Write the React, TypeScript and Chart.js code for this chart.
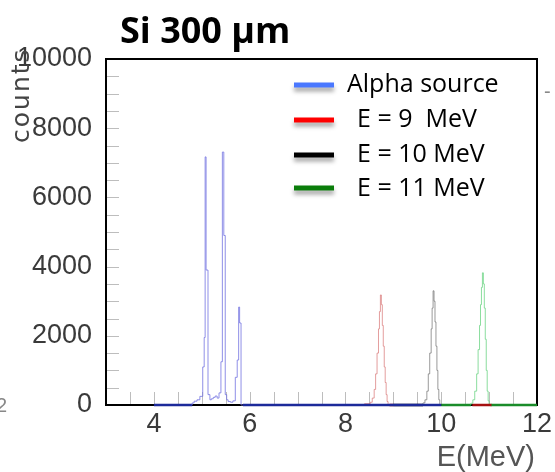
import React, { useEffect, useRef } from "react";
import { Chart, registerables } from "chart.js";
Chart.register(...registerables);

// ---------- data ----------
const seriesLabels = ["Alpha source", "E = 9  MeV", "E = 10 MeV", "E = 11 MeV"];

const alphaEnergy = [4.0, 4.8, 4.84, 4.9, 4.96, 5.02, 5.05, 5.07, 5.09, 5.13, 5.17, 5.2, 5.24, 5.28, 5.32, 5.36, 5.4, 5.43, 5.46, 5.49, 5.52, 5.55, 5.6, 5.65, 5.7, 5.74, 5.77, 5.79, 5.82, 5.86, 10.0];
const alphaCounts = [0, 0, 60, 110, 150, 250, 1100, 1950, 7170, 3900, 300, 150, 180, 220, 260, 200, 350, 1250, 7310, 4900, 300, 150, 100, 80, 120, 800, 1300, 2830, 2370, 0, 0];

const e9Energy = [8.4, 8.52, 8.56, 8.6, 8.63, 8.66, 8.69, 8.71, 8.73, 8.75, 8.77, 8.79, 8.81, 8.83, 8.85, 8.87, 8.89, 8.92, 9.0, 9.01, 10.65, 11.05];
const e9Counts = [0, 40, 80, 200, 450, 900, 1500, 2200, 2700, 3180, 2900, 2300, 1700, 1100, 650, 300, 100, 0, 0, null, 0, 0];

const e10Energy = [9.0, 9.62, 9.66, 9.7, 9.73, 9.76, 9.79, 9.81, 9.83, 9.85, 9.87, 9.89, 9.91, 9.93, 9.95, 9.97, 10.0];
const e10Counts = [0, 0, 60, 150, 400, 900, 1500, 2200, 2800, 3300, 3000, 2400, 1700, 1000, 450, 150, 0];

const e11Energy = [10.0, 10.62, 10.66, 10.7, 10.74, 10.77, 10.8, 10.82, 10.84, 10.86, 10.88, 10.9, 10.92, 10.94, 10.96, 10.98, 11.0, 11.03, 12.0];
const e11Counts = [0, 0, 50, 150, 400, 900, 1600, 2300, 2900, 3400, 3820, 3500, 2800, 1900, 1000, 400, 120, 0, 0];

const xTickValues = [4, 6, 8, 10, 12];
const yTickValues = [0, 2000, 4000, 6000, 8000, 10000];
const xMinorTicks = [3.5, 4, 4.5, 5, 5.5, 6, 6.5, 7, 7.5, 8, 8.5, 9, 9.5, 10, 10.5, 11, 11.5];
const yMinorTicks = [500, 1000, 1500, 2000, 2500, 3000, 3500, 4000, 4500, 5000, 5500, 6000, 6500, 7000, 7500, 8000, 8500, 9000, 9500];

const titleText = "Si 300 µm";
const yTitleText = "counts";
const xTitleText = "E(MeV)";

// ---------- styles ----------
const lineColors = ["rgba(115,115,225,0.8)", "rgba(215,115,115,0.7)", "rgba(100,100,100,0.65)", "rgba(100,210,125,0.75)"];
const baseColors = ["#1c2a9a", "#a51010", "#111111", "#1a8c2a"];
const legendColors = ["#4a78ff", "#ff0000", "#000000", "#0a7d0a"];

function toPoints(xs: number[], ys: (number | null)[]) {
  return xs.map((x, i) => ({ x, y: ys[i] }));
}

const framePlugin = {
  id: "frameTicks",
  beforeDatasetsDraw(chart: any) {
    const { ctx, chartArea: a, scales } = chart;
    ctx.save();
    ctx.strokeStyle = "#bdbdbd";
    ctx.lineWidth = 1;
    xMinorTicks.forEach((v) => {
      const px = Math.round(scales.x.getPixelForValue(v)) + 0.5;
      ctx.beginPath();
      ctx.moveTo(px, a.bottom);
      ctx.lineTo(px, a.bottom - 13);
      ctx.stroke();
    });
    yMinorTicks.forEach((v) => {
      const py = Math.round(scales.y.getPixelForValue(v)) + 0.5;
      ctx.beginPath();
      ctx.moveTo(a.left, py);
      ctx.lineTo(a.left + 13, py);
      ctx.stroke();
    });
    ctx.strokeStyle = "#000";
    ctx.lineWidth = 2;
    ctx.strokeRect(a.left, a.top, a.right - a.left, a.bottom - a.top);
    ctx.restore();
  },
  afterDraw(chart: any) {
    const { ctx, chartArea: a } = chart;
    ctx.save();
    // title
    ctx.fillStyle = "#000";
    ctx.font = "bold 36px 'Open Sans'";
    ctx.textAlign = "left";
    ctx.textBaseline = "alphabetic";
    ctx.fillText(titleText, 120, 43);
    // y title
    ctx.save();
    ctx.translate(29, 143);
    ctx.rotate(-Math.PI / 2);
    ctx.font = "25px 'DejaVu Sans'";
    (ctx as any).letterSpacing = "2px";
    ctx.fillStyle = "#444";
    ctx.textAlign = "left";
    ctx.fillText(yTitleText, 0, 0);
    ctx.restore();
    // x title
    ctx.font = "29px 'Liberation Sans'";
    ctx.fillStyle = "#555";
    ctx.textAlign = "right";
    ctx.fillText(xTitleText, a.right - 2, 466);
    // legend
    const rowsY = [85, 120, 155, 188];
    const textY = [92, 127, 162, 196];
    chart.data.datasets.forEach((ds: any, i: number) => {
      ctx.save();
      ctx.shadowColor = "rgba(0,0,0,0.35)";
      ctx.shadowBlur = 4;
      ctx.shadowOffsetY = 4;
      ctx.strokeStyle = legendColors[i];
      ctx.lineWidth = 5;
      ctx.beginPath();
      ctx.moveTo(294, rowsY[i]);
      ctx.lineTo(334, rowsY[i]);
      ctx.stroke();
      ctx.restore();
      ctx.fillStyle = "#000";
      ctx.font = "25px 'Open Sans'";
      ctx.textAlign = "left";
      ctx.fillText(ds.label, i === 0 ? 347 : 357, textY[i]);
    });
    // stray marks from the source figure
    ctx.fillStyle = "#888";
    ctx.font = "20px 'Liberation Sans'";
    ctx.textAlign = "left";
    ctx.fillText("-", 544, 98);
    ctx.fillText("2", -4, 412);
    ctx.restore();
  },
};

export default function App() {
  const ref = useRef<HTMLCanvasElement>(null);
  useEffect(() => {
    if (!ref.current) return;
    const sets = [
      toPoints(alphaEnergy, alphaCounts),
      toPoints(e9Energy, e9Counts),
      toPoints(e10Energy, e10Counts),
      toPoints(e11Energy, e11Counts),
    ];
    const chart = new Chart(ref.current, {
      type: "line",
      data: {
        datasets: sets.map((d, i) => ({
          label: seriesLabels[i],
          data: d,
          borderColor: lineColors[i],
          borderWidth: 1,
          pointRadius: 0,
          stepped: "after" as const,
          fill: false,
          clip: 6,
          spanGaps: false,
          segment: {
            borderColor: (c: any) => (c.p0.parsed.y === 0 && c.p1.parsed.y === 0 ? baseColors[i] : undefined),
            borderWidth: (c: any) => (c.p0.parsed.y === 0 && c.p1.parsed.y === 0 ? 2.5 : undefined),
          },
        })),
      },
      options: {
        responsive: false,
        animation: false,
        layout: { padding: { left: 0, top: 59, right: 18, bottom: 0 } },
        plugins: { legend: { display: false }, tooltip: { enabled: false }, title: { display: false } },
        scales: {
          x: {
            type: "linear",
            min: 3,
            max: 12,
            grid: { display: false },
            border: { display: false },
            afterBuildTicks: (s: any) => { s.ticks = xTickValues.map((v) => ({ value: v })); },
            afterFit: (s: any) => { s.height = 67; },
            ticks: { font: { family: "'Liberation Sans'", size: 27 }, color: "#3a3a3a", padding: -5, maxRotation: 0, callback: (v: any) => String(v) },
          },
          y: {
            type: "linear",
            min: 0,
            max: 10000,
            grid: { display: false },
            border: { display: false },
            afterBuildTicks: (s: any) => { s.ticks = yTickValues.map((v) => ({ value: v })); },
            afterFit: (s: any) => { s.width = 106; },
            ticks: { font: { family: "'Liberation Sans'", size: 27 }, color: "#3a3a3a", padding: 6, callback: (v: any) => String(v) },
          },
        },
      },
      plugins: [framePlugin],
    });
    return () => chart.destroy();
  }, []);
  return (
    <div style={{ position: "fixed", left: 0, top: 0, width: 555, height: 472, background: "#fff" }}>
      <canvas ref={ref} width={555} height={472} />
    </div>
  );
}
